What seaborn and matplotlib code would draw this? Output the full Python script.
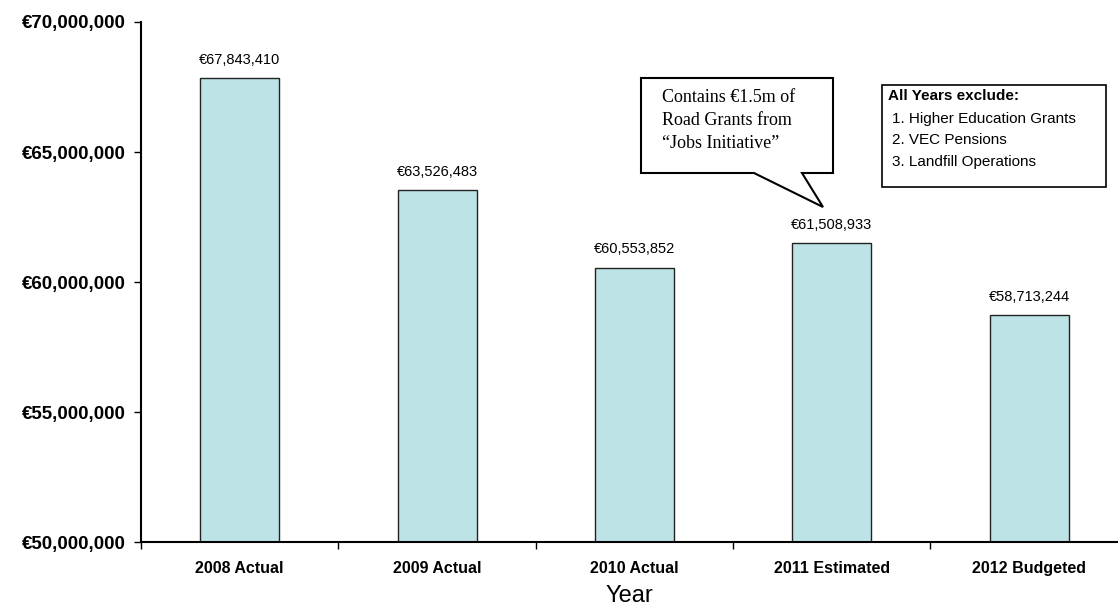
import matplotlib
matplotlib.use("Agg")
import matplotlib.pyplot as plt
import seaborn as sns
import pandas as pd
import numpy as np
from matplotlib.ticker import FuncFormatter
from matplotlib.patches import Polygon, Rectangle

categories = ["2008 Actual", "2009 Actual", "2010 Actual", "2011 Estimated", "2012 Budgeted"]
values = [67843410, 63526483, 60553852, 61508933, 58713244]
y_ticks = [50000000, 55000000, 60000000, 65000000, 70000000]
callout_lines = ["Contains \u20ac1.5m of", "Road Grants from", "\u201cJobs Initiative\u201d"]
notes_title = "All Years exclude:"
notes_items = ["1. Higher Education Grants", "2. VEC Pensions", "3. Landfill Operations"]

sns.set_theme(style="white")
plt.rcParams["font.family"] = ["Liberation Sans", "DejaVu Sans"]
plt.rcParams["text.color"] = "black"
plt.rcParams["axes.labelcolor"] = "black"
plt.rcParams["xtick.color"] = "black"
plt.rcParams["ytick.color"] = "black"

W, H = 1118, 614
fig = plt.figure(figsize=(W / 100, H / 100), dpi=100)
ax = fig.add_axes([141 / W, 1 - 542 / H, 1 - 141 / W, (542 - 22) / H])

df = pd.DataFrame({"Year": categories, "Value": values})
sns.barplot(data=df, x="Year", y="Value", color="#BEE3E6", edgecolor="#222222",
            linewidth=1.0, width=0.4, saturation=1, ax=ax)

ax.set_ylim(y_ticks[0], y_ticks[-1])
ax.set_xlim(-0.5, 4.45)
ax.set_yticks(y_ticks)
ax.yaxis.set_major_formatter(FuncFormatter(lambda v, p: f"\u20ac{v:,.0f}"))
for lab in ax.get_yticklabels():
    lab.set_fontweight("bold")
    lab.set_fontsize(13.5)
ax.tick_params(axis="y", which="major", direction="out", length=5, width=1, pad=6,
               color="black", labelcolor="black", left=True)

n = len(categories)
ax.set_xticks(np.arange(n) - 0.5)
ax.set_xticklabels([""] * n)
ax.set_xticks(np.arange(n), minor=True)
ax.set_xticklabels(categories, minor=True, fontweight="bold", fontsize=11.5)
ax.tick_params(axis="x", which="major", direction="out", length=5, width=1, color="black", bottom=True)
ax.tick_params(axis="x", which="minor", length=0, pad=14, labelcolor="black")

ax.set_xlabel("Year", fontsize=17, labelpad=6, color="black")
ax.set_ylabel("")

for s in ["top", "right"]:
    ax.spines[s].set_visible(False)
for s in ["left", "bottom"]:
    ax.spines[s].set_color("black")
    ax.spines[s].set_linewidth(1.5)

for i, v in enumerate(values):
    ax.annotate(f"\u20ac{v:,.0f}", (i, v), xytext=(0, 8), textcoords="offset points",
                ha="center", va="bottom", fontsize=10.5, color="black")

def fp(x, y):
    return (x / W, 1 - y / H)

# callout
poly = [fp(641, 78), fp(833, 78), fp(833, 173), fp(802, 173), fp(823, 207), fp(754, 173), fp(641, 173)]
fig.patches.append(Polygon(poly, closed=True, transform=fig.transFigure, facecolor="white",
                           edgecolor="black", linewidth=1.5, zorder=5))
for k, line in enumerate(callout_lines):
    fig.text(662 / W, 1 - (98 + 22.5 * k) / H, line, family=["Liberation Serif", "DejaVu Serif"],
             fontsize=13, va="center", ha="left", color="black", zorder=6)

# notes box
x0, y0, x1, y1 = 882, 85, 1106, 187
fig.patches.append(Rectangle(fp(x0, y1), (x1 - x0) / W, (y1 - y0) / H, transform=fig.transFigure,
                             facecolor="white", edgecolor="black", linewidth=1.2, zorder=5))
fig.text(888 / W, 1 - 96 / H, notes_title, fontsize=11, fontweight="bold", va="center", ha="left",
         color="black", zorder=6)
for k, item in enumerate(notes_items):
    fig.text(892 / W, 1 - (119 + 21.5 * k) / H, item, fontsize=11, va="center", ha="left",
             color="black", zorder=6)

fig.savefig("out.png", dpi=100)
